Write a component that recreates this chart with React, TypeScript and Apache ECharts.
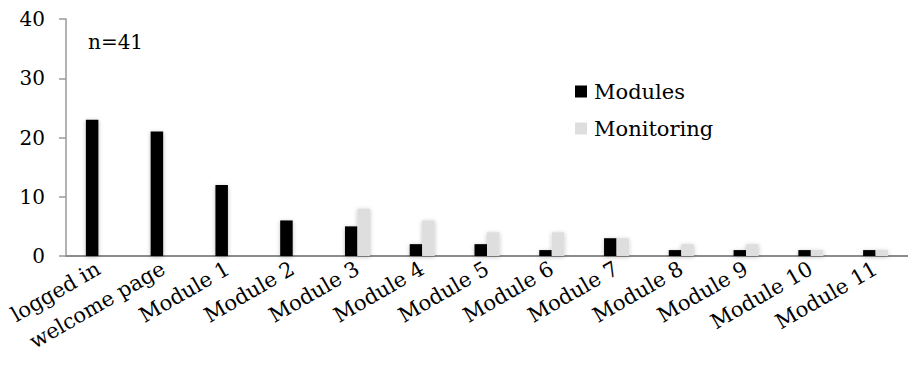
import React, { useEffect, useRef } from "react";
import * as echarts from "echarts";

const categories = [
  "logged in", "welcome page", "Module 1", "Module 2", "Module 3", "Module 4",
  "Module 5", "Module 6", "Module 7", "Module 8", "Module 9", "Module 10", "Module 11",
];
const modulesValues = [23, 21, 12, 6, 5, 2, 2, 1, 3, 1, 1, 1, 1];
const monitoringValues = [0, 0, 0, 0, 8, 6, 4, 4, 3, 2, 2, 1, 1];
const yTicks = [0, 10, 20, 30, 40];
const annotation = "n=41";

const FONT = "DejaVu Serif";

export default function App() {
  const ref = useRef<HTMLDivElement>(null);
  useEffect(() => {
    if (!ref.current) return;
    const chart = echarts.init(ref.current, undefined, { renderer: "svg" });
    const shadow = {
      shadowBlur: 4,
      shadowColor: "rgba(0,0,0,0.25)",
      shadowOffsetY: 1,
    };
    chart.setOption({
      animation: false,
      backgroundColor: "#ffffff",
      grid: { left: 66, top: 19, width: 853, height: 237, containLabel: false },
      legend: {
        orient: "vertical",
        left: 575,
        top: 81,
        padding: 0,
        itemWidth: 12,
        itemHeight: 12,
        itemGap: 16,
        icon: "rect",
        textStyle: { fontFamily: FONT, fontSize: 21, color: "#000", padding: [0, 0, 0, 2] },
        data: ["Modules", "Monitoring"],
      },
      graphic: [
        {
          type: "text",
          left: 88,
          top: 32,
          style: { text: annotation, fontFamily: FONT, fontSize: 20, fill: "#000" },
        },
      ],
      xAxis: {
        type: "category",
        data: categories,
        axisLine: { lineStyle: { color: "#8c8c8c", width: 2 } },
        axisTick: { show: false },
        axisLabel: {
          rotate: 30,
          interval: 0,
          margin: 11,
          fontFamily: FONT,
          fontSize: 21,
          color: "#000",
        },
      },
      yAxis: {
        type: "value",
        min: yTicks[0],
        max: yTicks[yTicks.length - 1],
        interval: 10,
        splitLine: { show: false },
        axisLine: { show: true, lineStyle: { color: "#9a9a9a", width: 1.5 } },
        axisTick: { show: true, length: 7, lineStyle: { color: "#9a9a9a", width: 1.5 } },
        axisLabel: { margin: 21, fontFamily: FONT, fontSize: 20, color: "#000" },
      },
      series: [
        {
          name: "Modules",
          type: "bar",
          data: modulesValues,
          barWidth: 12.5,
          barGap: "0%",
          itemStyle: { color: "#000000", ...shadow },
        },
        {
          name: "Monitoring",
          type: "bar",
          data: monitoringValues,
          barWidth: 12.5,
          barGap: "0%",
          itemStyle: { color: "#dedede", ...shadow },
        },
      ],
    });
    return () => chart.dispose();
  }, []);
  return (
    <div
      ref={ref}
      style={{ position: "fixed", left: 0, top: 0, width: 908, height: 370 }}
    />
  );
}
